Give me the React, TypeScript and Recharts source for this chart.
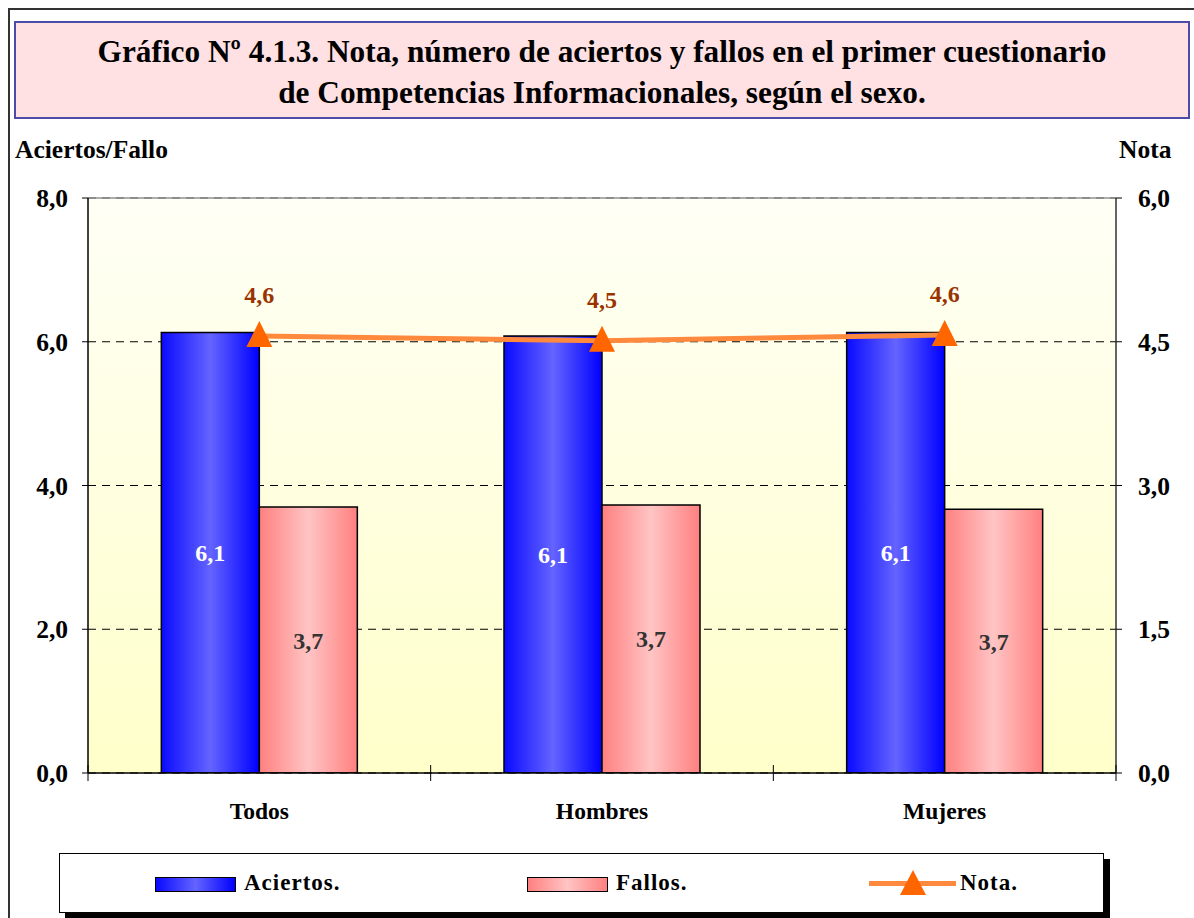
import React from 'react';
import { ComposedChart, Bar, Line, XAxis, YAxis, CartesianGrid, LabelList, ReferenceLine } from 'recharts';

const categories = ['Todos', 'Hombres', 'Mujeres'];
const aciertos = [6.13, 6.08, 6.13];
const fallos = [3.7, 3.73, 3.67];
const nota = [4.56, 4.51, 4.57];
const leftTicks = [0, 2, 4, 6, 8];
const rightTicks = [0, 1.5, 3, 4.5, 6];

const data = categories.map((c, i) => ({ cat: c, aciertos: aciertos[i], fallos: fallos[i], nota: nota[i] }));
const fmt = (v: any) => Number(v).toFixed(1).replace('.', ',');

const FONT = '"Liberation Serif", "Times New Roman", serif';

const CatTick = (props: any) => {
  const { x, y, payload, index } = props;
  const half = payload && payload.offset ? payload.offset : 0;
  return (
    <g>
      <line x1={x - half} x2={x - half} y1={y - 8} y2={y + 8} stroke="#000" strokeWidth={1} />
      {index === categories.length - 1 && (
        <line x1={x + half} x2={x + half} y1={y - 8} y2={y + 8} stroke="#000" strokeWidth={1} />
      )}
      <text x={x} y={y + 46} textAnchor="middle" fontFamily={FONT} fontWeight="bold" fontSize={23.5} fill="#000">
        {payload.value}
      </text>
    </g>
  );
};

const Triangle = (props: any) => {
  const { cx, cy } = props;
  if (cx == null || cy == null) return null;
  return <polygon points={`${cx},${cy - 15} ${cx - 13},${cy + 11} ${cx + 13},${cy + 11}`} fill="#FF6600" />;
};

export default function App() {
  return (
    <div style={{ position: 'absolute', left: 0, top: 0, width: 1194, height: 918, overflow: 'hidden', background: '#fff', fontFamily: FONT }}>
      <div style={{ position: 'absolute', left: 8, top: 8, width: 1400, height: 1200, borderLeft: '2px solid #333', borderTop: '2px solid #333' }} />
      <div style={{ position: 'absolute', left: 14, top: 21, width: 1172, height: 94, background: '#FFE0E3', border: '2px solid #4B4BA8', display: 'flex', flexDirection: 'column', justifyContent: 'center', alignItems: 'center' }}>
        <div style={{ fontSize: 31.3, fontWeight: 'bold', lineHeight: '41px', textAlign: 'center', color: '#000', marginTop: 4 }}>
          Gráfico Nº 4.1.3. Nota, número de aciertos y fallos en el primer cuestionario
          <br />
          de Competencias Informacionales, según el sexo.
        </div>
      </div>
      <div style={{ position: 'absolute', left: 15, top: 135, fontSize: 25.5, fontWeight: 'bold', lineHeight: '30px' }}>Aciertos/Fallo</div>
      <div style={{ position: 'absolute', left: 1119, top: 135, fontSize: 25.5, fontWeight: 'bold', lineHeight: '30px' }}>Nota</div>

      <div style={{ position: 'absolute', left: 0, top: 0 }}>
        <ComposedChart
          width={1194}
          height={835}
          data={data}
          margin={{ top: 198, right: 0, bottom: 0, left: 0 }}
          barGap={0}
          barCategoryGap="21.4%"
        >
          <defs>
            <linearGradient id="bgGrad" x1="0" y1="0" x2="0" y2="1">
              <stop offset="0%" stopColor="#FFFFF6" />
              <stop offset="100%" stopColor="#FFFFCA" />
            </linearGradient>
            <linearGradient id="blueGrad" x1="0" y1="0" x2="1" y2="0">
              <stop offset="0%" stopColor="#0A0AFF" />
              <stop offset="50%" stopColor="#6464FF" />
              <stop offset="100%" stopColor="#0000FF" />
            </linearGradient>
            <linearGradient id="pinkGrad" x1="0" y1="0" x2="1" y2="0">
              <stop offset="0%" stopColor="#FF8080" />
              <stop offset="50%" stopColor="#FFC4C4" />
              <stop offset="100%" stopColor="#FF8080" />
            </linearGradient>
          </defs>
          <CartesianGrid
            yAxisId="left"
            vertical={false}
            stroke="#000"
            strokeDasharray="8 6"
            fill="url(#bgGrad)"
            fillOpacity={1}
            syncWithTicks
          />
          <XAxis
            dataKey="cat"
            xAxisId={0}
            height={62}
            tickSize={0}
            tickMargin={0}
            tickLine={false}
            axisLine={{ stroke: '#000', strokeWidth: 1.5 }}
            tick={<CatTick />}
            interval={0}
          />
          <YAxis
            yAxisId="left"
            orientation="left"
            width={88}
            domain={[0, 8]}
            ticks={leftTicks}
            tickFormatter={fmt}
            tickSize={6}
            tickMargin={14}
            axisLine={{ stroke: '#000', strokeWidth: 1.5 }}
            tickLine={{ stroke: '#000' }}
            tick={{ fill: '#000', fontSize: 25.5, fontWeight: 'bold', fontFamily: FONT }}
            allowDataOverflow
          />
          <YAxis
            yAxisId="right"
            orientation="right"
            width={78}
            domain={[0, 6]}
            ticks={rightTicks}
            tickFormatter={fmt}
            tickSize={6}
            tickMargin={16}
            axisLine={{ stroke: '#333', strokeWidth: 1.5 }}
            tickLine={{ stroke: '#000' }}
            tick={{ fill: '#000', fontSize: 25.5, fontWeight: 'bold', fontFamily: FONT }}
            allowDataOverflow
          />
          <ReferenceLine yAxisId="left" y={8} stroke="#909090" strokeWidth={1.5} />
          <Bar yAxisId="left" dataKey="aciertos" fill="url(#blueGrad)" stroke="#000" strokeWidth={1.5} isAnimationActive={false}>
            <LabelList dataKey="aciertos" position="center" formatter={fmt} fill="#fff" fontSize={24} fontWeight="bold" fontFamily={FONT} />
          </Bar>
          <Bar yAxisId="left" dataKey="fallos" fill="url(#pinkGrad)" stroke="#000" strokeWidth={1.5} isAnimationActive={false}>
            <LabelList dataKey="fallos" position="center" formatter={fmt} fill="#333" fontSize={24} fontWeight="bold" fontFamily={FONT} />
          </Bar>
          <Line
            yAxisId="right"
            dataKey="nota"
            stroke="#FF8A3D"
            strokeWidth={5}
            dot={<Triangle />}
            activeDot={false}
            isAnimationActive={false}
          >
            <LabelList dataKey="nota" position="top" offset={33} formatter={fmt} fill="#993300" fontSize={24} fontWeight="bold" fontFamily={FONT} />
          </Line>
        </ComposedChart>
      </div>

      <div style={{ position: 'absolute', left: 59, top: 853, width: 1043, height: 58, border: '1.5px solid #000', background: '#fff', boxShadow: '6px 6px 0 #000' }}>
        <div style={{ position: 'absolute', left: 95, top: 23, width: 79, height: 13, border: '1.5px solid #000', background: 'linear-gradient(to right, #0A0AFF, #6464FF, #0000FF)' }} />
        <div style={{ position: 'absolute', left: 184, top: 0, fontSize: 23, fontWeight: 'bold', lineHeight: '58px', letterSpacing: 1 }}>Aciertos.</div>
        <div style={{ position: 'absolute', left: 467, top: 23, width: 79, height: 13, border: '1.5px solid #000', background: 'linear-gradient(to right, #FF8080, #FFC4C4, #FF8080)' }} />
        <div style={{ position: 'absolute', left: 556, top: 0, fontSize: 23, fontWeight: 'bold', lineHeight: '58px', letterSpacing: 1 }}>Fallos.</div>
        <div style={{ position: 'absolute', left: 809, top: 27, width: 87, height: 5, background: '#FF8A3D' }} />
        <svg style={{ position: 'absolute', left: 839, top: 14 }} width={28} height={28}>
          <polygon points="14,2 1,27 27,27" fill="#FF6600" />
        </svg>
        <div style={{ position: 'absolute', left: 900, top: 0, fontSize: 23, fontWeight: 'bold', lineHeight: '58px', letterSpacing: 1 }}>Nota.</div>
      </div>
    </div>
  );
}
